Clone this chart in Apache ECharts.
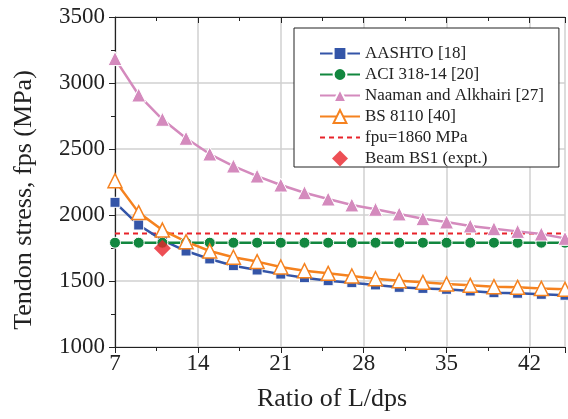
<!DOCTYPE html>
<html>
<head>
<meta charset="utf-8">
<script src="https://cdn.jsdelivr.net/npm/echarts@6/dist/echarts.min.js"></script>
<style>html,body{margin:0;padding:0;background:#fff;}#c{width:568px;height:419px;}</style>
</head>
<body>
<div id="c"></div>
<script>
const xVals = [7,9,11,13,15,17,19,21,23,25,27,29,31,33,35,37,39,41,43,45];
const aashto = [2096,1924,1810,1727,1667,1616,1583,1552,1525,1502,1487,1470,1452,1444,1437,1424,1411,1407,1399,1392];
const aci = [1790,1790,1790,1790,1790,1790,1790,1790,1790,1790,1790,1790,1790,1790,1790,1790,1790,1790,1790,1790];
const naaman = [3185,2909,2725,2581,2462,2371,2295,2227,2169,2121,2076,2043,2008,1972,1947,1917,1896,1876,1856,1823];
const bs8110 = [2260,2018,1886,1798,1727,1680,1647,1606,1578,1558,1538,1517,1502,1490,1477,1467,1457,1452,1444,1437];
const fpuX = [7,45];
const fpuY = [1860,1860];
const beamX = [11];
const beamY = [1748];
const xTicks = [7,14,21,28,35,42];
const yTicks = [1000,1500,2000,2500,3000,3500];

const pair = (xs, ys) => xs.map((x,i)=>[x, ys[i]]);
const font = 'Liberation Serif';
const chart = echarts.init(document.getElementById('c'));
const lineSeries = (name, data, color, symbol, size, fill) => ({
  name, type:'line', data, symbol, symbolSize:size,
  lineStyle:{color, width:2.5},
  itemStyle:{color: fill || color, borderColor: fill ? color : '#fff', borderWidth: fill ? 1.5 : 1},
  emphasis:{disabled:true}, z: 3
});
chart.setOption({
  animation:false,
  textStyle:{fontFamily:font},
  grid:{left:115, right:-3, top:17, bottom:72, containLabel:false},
  xAxis:[{
    type:'value', min:7, max:45, interval:7,
    name:'Ratio of L/dps', nameLocation:'middle', nameGap:39,
    nameTextStyle:{fontFamily:font, fontSize:26, color:'#222', padding:[0,16,0,0]},
    axisLine:{show:true, onZero:false, lineStyle:{color:'#222', width:1.2}},
    axisTick:{show:true, inside:false, length:6, lineStyle:{color:'#222'}},
    minorTick:{show:true, splitNumber:2, length:4, lineStyle:{color:'#222'}},
    axisLabel:{fontFamily:font, fontSize:23, color:'#222', margin:5,
      formatter:v => xTicks.includes(v) ? String(v) : ''},
    splitLine:{show:true, lineStyle:{color:'#d0d0d0', width:1.5}}
  },{
    type:'value', min:7, max:45, interval:7, position:'top',
    axisLine:{show:true, onZero:false, lineStyle:{color:'#222', width:1.2}},
    axisTick:{show:true, inside:true, length:6, lineStyle:{color:'#222'}},
    minorTick:{show:true, splitNumber:2, length:4, lineStyle:{color:'#222'}},
    axisLabel:{show:false}, splitLine:{show:false}
  }],
  yAxis:{
    type:'value', min:1000, max:3500, interval:500,
    name:'Tendon stress, fps (MPa)', nameLocation:'middle', nameGap:78,
    nameTextStyle:{fontFamily:font, fontSize:26, color:'#222', padding:[0,36,0,0]},
    axisLine:{show:true, onZero:false, lineStyle:{color:'#222', width:1.2}},
    axisTick:{show:true, inside:false, length:6, lineStyle:{color:'#222'}},
    minorTick:{show:true, splitNumber:2, length:4, lineStyle:{color:'#222'}},
    axisLabel:{fontFamily:font, fontSize:23, color:'#222', margin:10,
      formatter:v => yTicks.includes(v) ? String(v) : ''},
    splitLine:{show:true, lineStyle:{color:'#d0d0d0', width:1.5}}
  },
  legend:{
    orient:'vertical', left:294, top:28,
    backgroundColor:'#fff', borderColor:'#222', borderWidth:1,
    padding:[17,15,0,25], itemGap:4, itemWidth:40, itemHeight:16,
    textStyle:{fontFamily:font, fontSize:17, color:'#222', lineHeight:16},
    data:[
      {name:'AASHTO [18]'},
      {name:'ACI 318-14 [20]'},
      {name:'Naaman and Alkhairi [27]'},
      {name:'BS 8110 [40]'},
      {name:'fpu=1860 MPa', itemStyle:{opacity:0}},
      {name:'Beam BS1 (expt.)', icon:'path://M7,0 L14,7 L7,14 L0,7 Z'}
    ]
  },
  series:[
    lineSeries('AASHTO [18]', pair(xVals, aashto), '#3455a8', 'rect', 10),
    lineSeries('ACI 318-14 [20]', pair(xVals, aci), '#12873f', 'circle', 11),
    lineSeries('Naaman and Alkhairi [27]', pair(xVals, naaman), '#d48abd', 'triangle', 14),
    lineSeries('BS 8110 [40]', pair(xVals, bs8110), '#f5821f', 'triangle', 14, '#fff'),
    {name:'fpu=1860 MPa', type:'line', data:pair(fpuX, fpuY), symbol:'none',
      lineStyle:{color:'#e8232a', width:2, type:[5,4]}, itemStyle:{color:'#e8232a'}, z:2},
    {name:'Beam BS1 (expt.)', type:'scatter', data:pair(beamX, beamY), symbol:'diamond', symbolSize:[17,17],
      itemStyle:{color:'#e8232a'}, z:5}
  ]
});
</script>
</body>
</html>
